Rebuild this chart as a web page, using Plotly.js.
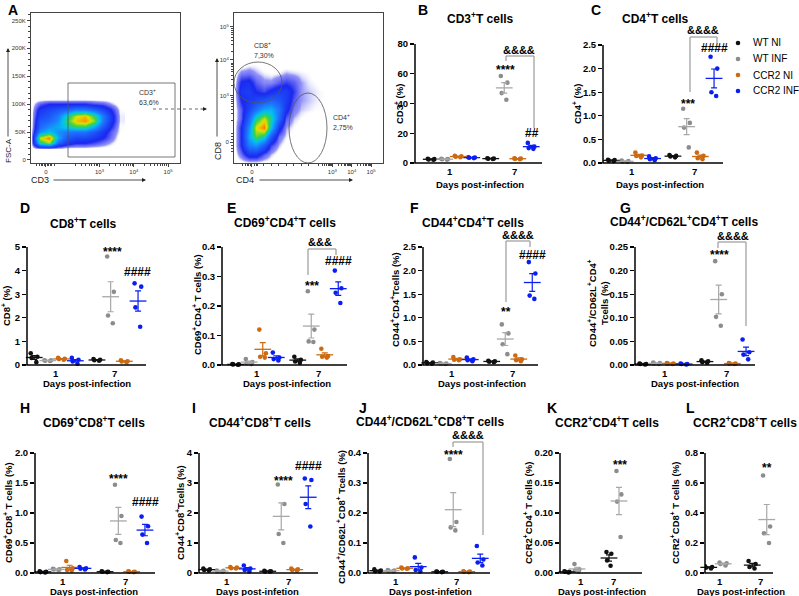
<!DOCTYPE html>
<html><head><meta charset="utf-8">
<script src="https://cdn.plot.ly/plotly-3.0.1.min.js"></script>
<style>html,body{margin:0;padding:0;background:#fff}#chart{width:799px;height:596px}</style>
</head><body><div id="chart"></div>
<script>
// ================= DATA =================
const dayLabels = ['1', '7'];
const groupNames = ['WT NI', 'WT INF', 'CCR2 NI', 'CCR2 INF'];

// Each array: [day-1 values, day-7 values]
// B  CD3+ T cells (%)
const cd3_WT_NI    = [[2.4, 2.8, 2.2, 2.6], [2.9, 3.2, 2.7, 3.0]];
const cd3_WT_INF   = [[2.5, 2.3, 2.8, 2.6], [58.5, 54, 47, 42.5]];
const cd3_CCR2_NI  = [[4.8, 4.2, 3.9, 4.5], [2.8, 3.1, 2.6, 3.0]];
const cd3_CCR2_INF = [[3.9, 3.5, 3.7, 3.3], [13.5, 11, 10, 9.5]];
// C  CD4+ T cells (%)
const cd4_WT_NI    = [[0.07, 0.05, 0.04, 0.06], [0.17, 0.14, 0.12, 0.15]];
const cd4_WT_INF   = [[0.05, 0.03, 0.02, 0.04], [1.15, 0.85, 0.75, 0.33]];
const cd4_CCR2_NI  = [[0.22, 0.15, 0.12, 0.16], [0.22, 0.15, 0.10, 0.08]];
const cd4_CCR2_INF = [[0.14, 0.10, 0.06, 0.08], [2.25, 2.0, 1.5, 1.42]];
// D  CD8+ T cells (%)
const cd8_WT_NI    = [[0.5, 0.35, 0.3, 0.12], [0.25, 0.22, 0.2, 0.18]];
const cd8_WT_INF   = [[0.2, 0.18, 0.2, 0.17], [4.6, 3.1, 2.1, 1.77]];
const cd8_CCR2_NI  = [[0.3, 0.26, 0.22, 0.25], [0.2, 0.16, 0.12, 0.15]];
const cd8_CCR2_INF = [[0.3, 0.22, 0.15, 0.05], [3.46, 3.32, 2.44, 1.62]];
// E  CD69+CD4+ T cells (%)
const cd69cd4_WT_NI    = [[0.003, 0.002, 0.001, 0.002], [0.028, 0.018, 0.012, 0.008]];
const cd69cd4_WT_INF   = [[0.02, 0.01, 0.006, 0.003], [0.25, 0.12, 0.08, 0.078]];
const cd69cd4_CCR2_NI  = [[0.12, 0.04, 0.028, 0.025], [0.055, 0.03, 0.028, 0.025]];
const cd69cd4_CCR2_INF = [[0.042, 0.025, 0.02, 0.015], [0.32, 0.26, 0.245, 0.21]];
// F  CD44+CD4+ T cells (%)
const cd44cd4_WT_NI    = [[0.06, 0.05, 0.04, 0.03], [0.09, 0.07, 0.06, 0.08]];
const cd44cd4_WT_INF   = [[0.04, 0.03, 0.02, 0.03], [0.86, 0.67, 0.44, 0.23]];
const cd44cd4_CCR2_NI  = [[0.17, 0.12, 0.10, 0.11], [0.2, 0.12, 0.10, 0.08]];
const cd44cd4_CCR2_INF = [[0.16, 0.12, 0.10, 0.08], [2.18, 1.94, 1.47, 1.4]];
// G  CD44+/CD62L+CD4+ T cells (%)
const cm4_WT_NI    = [[0.003, 0.002, 0.001, 0.002], [0.010, 0.008, 0.006, 0.005]];
const cm4_WT_INF   = [[0.005, 0.004, 0.003, 0.002], [0.22, 0.15, 0.102, 0.083]];
const cm4_CCR2_NI  = [[0.004, 0.003, 0.002, 0.003], [0.004, 0.003, 0.002, 0.003]];
const cm4_CCR2_INF = [[0.003, 0.002, 0.002, 0.001], [0.054, 0.027, 0.022, 0.012]];
// H  CD69+CD8+ T cells (%)
const cd69cd8_WT_NI    = [[0.03, 0.02, 0.015, 0.01], [0.03, 0.02, 0.02, 0.015]];
const cd69cd8_WT_INF   = [[0.07, 0.06, 0.06, 0.05], [1.47, 0.95, 0.55, 0.5]];
const cd69cd8_CCR2_NI  = [[0.2, 0.08, 0.05, 0.04], [0.03, 0.02, 0.02, 0.015]];
const cd69cd8_CCR2_INF = [[0.1, 0.08, 0.07, 0.06], [0.94, 0.78, 0.64, 0.5]];
// I  CD44+CD8+ T cells (%)
const cd44cd8_WT_NI    = [[0.15, 0.12, 0.10, 0.08], [0.07, 0.06, 0.05, 0.05]];
const cd44cd8_WT_INF   = [[0.08, 0.07, 0.06, 0.05], [2.95, 2.3, 1.3, 1.0]];
const cd44cd8_CCR2_NI  = [[0.2, 0.18, 0.15, 0.16], [0.15, 0.12, 0.10, 0.08]];
const cd44cd8_CCR2_INF = [[0.25, 0.15, 0.10, 0.05], [3.15, 3.1, 2.3, 1.55]];
// J  CD44+/CD62L+CD8+ T cells (%)
const cm8_WT_NI    = [[0.012, 0.008, 0.005, 0.006], [0.005, 0.004, 0.003, 0.004]];
const cm8_WT_INF   = [[0.010, 0.008, 0.007, 0.006], [0.38, 0.17, 0.152, 0.142]];
const cm8_CCR2_NI  = [[0.018, 0.016, 0.014, 0.015], [0.006, 0.004, 0.003, 0.005]];
const cm8_CCR2_INF = [[0.052, 0.018, 0.010, 0.005], [0.09, 0.045, 0.035, 0.025]];
// K  CCR2+CD4+ T cells (%)
const ccr2cd4_WT_NI  = [[0.003, 0.002, 0.001, 0.002], [0.035, 0.032, 0.021, 0.012]];
const ccr2cd4_WT_INF = [[0.015, 0.006, 0.004, 0.002], [0.17, 0.131, 0.119, 0.06]];
// L  CCR2+CD8+ T cells (%)
const ccr2cd8_WT_NI  = [[0.045, 0.04, 0.035, 0.03], [0.08, 0.06, 0.04, 0.03]];
const ccr2cd8_WT_INF = [[0.07, 0.065, 0.06, 0.05], [0.65, 0.31, 0.265, 0.2]];

// A  flow cytometry density estimates (0..1)
const fscCd3_x = [0, 6, 12, 18, 24, 30, 36, 42, 48, 54, 60];
const fscCd3_y = [20, 30, 40, 50, 60, 70, 80, 90, 100, 110];
const fscCd3_z = [
  [0, 0, 0, 0, 0, 0, 0, 0, 0, 0, 0],
  [0, 0.62, 0.75, 0.35, 0.2, 0.15, 0.15, 0.12, 0.08, 0.04, 0],
  [0, 0.78, 0.92, 0.5, 0.3, 0.25, 0.25, 0.2, 0.15, 0.08, 0],
  [0, 0.45, 0.55, 0.45, 0.4, 0.38, 0.38, 0.3, 0.2, 0.1, 0.02],
  [0, 0.35, 0.45, 0.5, 0.58, 0.65, 0.65, 0.5, 0.3, 0.15, 0.02],
  [0, 0.3, 0.35, 0.45, 0.66, 0.84, 0.9, 0.74, 0.4, 0.2, 0.03],
  [0, 0.25, 0.3, 0.4, 0.6, 0.78, 0.84, 0.66, 0.4, 0.2, 0.03],
  [0, 0.2, 0.25, 0.3, 0.35, 0.42, 0.42, 0.35, 0.25, 0.15, 0.02],
  [0, 0.1, 0.15, 0.15, 0.15, 0.15, 0.15, 0.12, 0.1, 0.05, 0],
  [0, 0, 0, 0, 0, 0, 0, 0, 0, 0, 0]
];
const cd8Cd4_x = [0, 5, 10, 15, 20, 25, 30, 35, 40, 45, 50, 55, 60, 65];
const cd8Cd4_y = [0, 6, 12, 18, 24, 30, 36, 42, 48, 54, 60, 66];
const cd8Cd4_z = [
  [0, 0, 0, 0, 0, 0, 0, 0, 0, 0, 0, 0, 0, 0],
  [0, 0.08, 0.2, 0.2, 0.1, 0.04, 0, 0, 0, 0, 0, 0, 0, 0],
  [0, 0.15, 0.4, 0.45, 0.3, 0.12, 0.04, 0, 0, 0, 0, 0, 0, 0],
  [0, 0.15, 0.5, 0.7, 0.6, 0.3, 0.08, 0.03, 0, 0, 0, 0, 0, 0],
  [0, 0.15, 0.45, 0.8, 0.93, 0.55, 0.2, 0.05, 0.02, 0, 0, 0, 0, 0],
  [0, 0.1, 0.35, 0.62, 0.78, 0.62, 0.35, 0.1, 0.04, 0.02, 0, 0, 0, 0],
  [0, 0.1, 0.25, 0.38, 0.5, 0.52, 0.38, 0.18, 0.07, 0.04, 0.03, 0.02, 0.02, 0],
  [0, 0.15, 0.2, 0.25, 0.3, 0.34, 0.3, 0.22, 0.1, 0.05, 0.04, 0.03, 0.02, 0],
  [0, 0.2, 0.22, 0.15, 0.12, 0.17, 0.22, 0.22, 0.13, 0.05, 0.04, 0.03, 0.02, 0],
  [0, 0.16, 0.18, 0.1, 0.06, 0.06, 0.1, 0.13, 0.1, 0.05, 0.03, 0.02, 0, 0],
  [0, 0.07, 0.08, 0.05, 0.03, 0.02, 0.03, 0.05, 0.04, 0.03, 0.02, 0, 0, 0],
  [0, 0, 0.02, 0.02, 0, 0, 0, 0, 0, 0, 0, 0, 0, 0]
];
const fscTickVals = [0, 50, 100, 150, 200, 250];
const fscTickText = ['0', '50K', '100K', '150K', '200K', '250K'];
const logTickText = ['0', '10<sup>3</sup>', '10<sup>4</sup>', '10<sup>5</sup>'];

// ================= LAYOUT HELPERS =================
const W = 799, H = 596;
const X = p => p / W, Y = p => 1 - p / H;
const FONT = '"Liberation Sans", Arial, sans-serif';
const colors = ['#111111', '#8c8c8c', '#cc6a12', '#0a1ef2'];
const meanColors = ['#111111', '#a8a8a8', '#cc6a12', '#0a1ef2'];

const traces = [], shapes = [], annotations = [];
const layout = {
  width: W, height: H, margin: {l: 0, r: 0, t: 0, b: 0},
  paper_bgcolor: '#fff', plot_bgcolor: 'rgba(0,0,0,0)', showlegend: false,
  font: {family: FONT, color: '#000'}
};
function ann(x, y, text, o) {
  annotations.push(Object.assign({xref: 'paper', yref: 'paper', x: X(x), y: Y(y), text: text,
    showarrow: false, xanchor: 'center', yanchor: 'middle',
    font: {family: FONT, size: 10, color: '#000'}}, o || {}));
}
function seg(x0, y0, x1, y1, color, width, dash) {
  shapes.push({type: 'line', xref: 'paper', yref: 'paper', x0: X(x0), y0: Y(y0), x1: X(x1), y1: Y(y1),
    line: {color: color, width: width, dash: dash || 'solid'}});
}
function arrow(x0, y0, x1, y1) {
  annotations.push({xref: 'paper', yref: 'paper', x: X(x1), y: Y(y1), ax: x0 - x1, ay: y0 - y1,
    axref: 'pixel', ayref: 'pixel', text: '', showarrow: true, arrowhead: 2, arrowsize: 1,
    arrowwidth: 0.8, arrowcolor: '#222'});
}

// ================= PANEL A (flow) =================
const jetScale = [[0, 'rgba(255,255,255,0)'], [0.015, 'rgba(255,255,255,0)'], [0.05, 'rgba(40,40,240,0.5)'],
  [0.15, 'rgba(26,40,240,1)'], [0.4, '#1e78ff'], [0.55, '#00c4f0'], [0.68, '#3cd24a'],
  [0.8, '#e0e400'], [0.9, '#ff9000'], [1, '#ff1800']];
traces.push({type: 'heatmap', x: fscCd3_x, y: fscCd3_y, z: fscCd3_z, xaxis: 'x', yaxis: 'y',
  zsmooth: 'best', colorscale: jetScale, zmin: 0, zmax: 1, showscale: false, hoverinfo: 'skip'});
traces.push({type: 'heatmap', x: cd8Cd4_x, y: cd8Cd4_y, z: cd8Cd4_z, xaxis: 'x2', yaxis: 'y2',
  zsmooth: 'best', colorscale: jetScale, zmin: 0, zmax: 1, showscale: false, hoverinfo: 'skip'});

function logMinor(zeroPos, d3Pos, dec, extra) {
  const out = extra.slice();
  for (let e = 2; e <= 4; e++) for (let k = 2; k < 10; k++) {
    const p = d3Pos + dec * ((e - 3) + Math.log10(k));
    if (p > zeroPos + 3 && p < 99) out.push(p);
  }
  return out;
}
const flowAx = {showgrid: false, zeroline: false, showline: true, mirror: true, linecolor: '#444',
  linewidth: 1, ticks: 'outside', ticklen: 3, tickcolor: '#444', fixedrange: true,
  tickfont: {family: FONT, size: 6, color: '#333'}};
layout.xaxis = Object.assign({}, flowAx, {domain: [X(31), X(180)], range: [0, 100], anchor: 'y',
  tickmode: 'array', tickvals: [10, 46, 69, 92], ticktext: logTickText,
  minor: {tickvals: logMinor(10, 46, 23, [4, 6, 7, 8, 9, 11, 12, 13, 14, 16]), ticks: 'outside', ticklen: 2, tickcolor: '#444'}});
layout.yaxis = Object.assign({}, flowAx, {domain: [Y(163), Y(13)], range: [-5.4, 263.4], anchor: 'x',
  tickmode: 'array', tickvals: fscTickVals, ticktext: fscTickText,
  minor: {tickmode: 'linear', tick0: 0, dtick: 10, ticks: 'outside', ticklen: 2, tickcolor: '#444'}});
layout.xaxis2 = Object.assign({}, flowAx, {domain: [X(234), X(383)], range: [0, 100], anchor: 'y2',
  tickmode: 'array', tickvals: [12, 66, 79, 92], ticktext: logTickText,
  minor: {tickvals: logMinor(12, 66, 13, [6, 8, 9, 10, 11, 14, 15, 16, 20, 25, 30, 35, 40, 45, 50]), ticks: 'outside', ticklen: 2, tickcolor: '#444'}});
layout.yaxis2 = Object.assign({}, flowAx, {domain: [Y(163), Y(13)], range: [0, 100], anchor: 'x2',
  tickmode: 'array', tickvals: [14, 44.7, 68.7, 90.7], ticktext: logTickText,
  minor: {tickvals: logMinor(14, 44.7, 23, [8, 10, 12, 16, 18, 20]), ticks: 'outside', ticklen: 2, tickcolor: '#444'}});

// gates
shapes.push({type: 'rect', xref: 'paper', yref: 'paper', x0: X(68), x1: X(175), y0: Y(157), y1: Y(83),
  line: {color: '#555', width: 0.8}});
shapes.push({type: 'circle', xref: 'paper', yref: 'paper', x0: X(234), x1: X(282), y0: Y(103), y1: Y(62),
  line: {color: '#555', width: 0.8}});
shapes.push({type: 'circle', xref: 'paper', yref: 'paper', x0: X(289), x1: X(327), y0: Y(163), y1: Y(93),
  line: {color: '#555', width: 0.8}});
const gateFont = {family: FONT, size: 7, color: '#333'};
ann(137, 92, 'CD3<sup>+</sup>', {xanchor: 'left', font: gateFont});
ann(137, 102, '63,6%', {xanchor: 'left', font: gateFont});
ann(252, 45, 'CD8<sup>+</sup>', {xanchor: 'left', font: gateFont});
ann(252, 56, '7,30%', {xanchor: 'left', font: gateFont});
ann(331, 117, 'CD4<sup>+</sup>', {xanchor: 'left', font: gateFont});
ann(331, 127, '2,75%', {xanchor: 'left', font: gateFont});
// axis labels + arrows
const flowLab = {family: FONT, size: 9, color: '#222'};
ann(8, 151, 'FSC-A', {textangle: -90, font: {family: FONT, size: 8, color: '#222'}});
ann(40, 180, 'CD3', {font: flowLab});
ann(218, 151, 'CD8', {textangle: -90, font: flowLab});
ann(245, 180, 'CD4', {font: flowLab});
arrow(8, 138, 8, 48);
arrow(52, 180, 146, 180);
arrow(217, 138, 217, 58);
arrow(258, 180, 353, 180);
seg(153, 109, 201, 109, '#444', 0.8, 'dot');
arrow(199, 109, 207, 109);

// ================= DOT PANELS =================
const panels = [
  {letter: 'B', lp: [423, 0], title: 'CD3<sup>+</sup>T cells', tp: [480, 18], ytitle: 'CD3<sup>+</sup> (%)', yp: [399, 104],
   data: [cd3_WT_NI, cd3_WT_INF, cd3_CCR2_NI, cd3_CCR2_INF], ymax: 80, dtick: 20, fmt: '',
   g: {L: 415, R: 542, bot: 163, top: 44, c1: 451.5, c7: 511, gp: 13.5, t1: 450, t7: 514}, xt: [480, 183], xtitle: 'Days post-infection',
   sig: [['****', 505, 67], ['##', 532, 133], ['&&&&', 519, 50]], br: [506, 534, 56, 61, 128]},
  {letter: 'C', lp: [596, 0], title: 'CD4<sup>+</sup>T cells', tp: [655, 18], ytitle: 'CD4<sup>+</sup> (%)', yp: [577, 104],
   data: [cd4_WT_NI, cd4_WT_INF, cd4_CCR2_NI, cd4_CCR2_INF], ymax: 2.5, dtick: 0.5, fmt: '.1f',
   g: {L: 603, R: 723, bot: 163, top: 45, c1: 632, c7: 693.5, gp: 13.7, t1: 632, t7: 694}, xt: [660, 183], xtitle: 'Days post-infection',
   sig: [['***', 688, 101], ['####', 714, 48], ['&&&&', 703, 30]], br: [690, 717, 37, 92, 43]},
  {letter: 'D', lp: [25, 198], title: 'CD8<sup>+</sup>T cells', tp: [83, 223], ytitle: 'CD8<sup>+</sup> (%)', yp: [6, 306],
   data: [cd8_WT_NI, cd8_WT_INF, cd8_CCR2_NI, cd8_CCR2_INF], ymax: 5, dtick: 1, fmt: '',
   g: {L: 27, R: 146, bot: 365, top: 247, c1: 54.75, c7: 117.5, gp: 13.7, t1: 56, t7: 114}, xt: [87, 382], xtitle: 'Days post-infection',
   sig: [['****', 112, 249], ['####', 137, 272]]},
  {letter: 'E', lp: [232, 198], title: 'CD69<sup>+</sup>CD4<sup>+</sup>T cells', tp: [285, 222], ytitle: 'CD69<sup>+</sup>CD4<sup>+</sup> T cells (%)', yp: [197, 305],
   data: [cd69cd4_WT_NI, cd69cd4_WT_INF, cd69cd4_CCR2_NI, cd69cd4_CCR2_INF], ymax: 0.4, dtick: 0.1, fmt: '.1f',
   g: {L: 222, R: 347, bot: 365, top: 247, c1: 256, c7: 318, gp: 13.5, t1: 257, t7: 318}, xt: [287, 382], xtitle: 'Days post-infection',
   sig: [['***', 312, 283], ['####', 338, 261], ['&&&', 320, 242]], br: [308, 336, 249, 275, 255]},
  {letter: 'F', lp: [415, 198], title: 'CD44<sup>+</sup>CD4<sup>+</sup>T cells', tp: [473, 222], ytitle: 'CD44<sup>+</sup>CD4<sup>+</sup>Tcells (%)', yp: [395, 300],
   data: [cd44cd4_WT_NI, cd44cd4_WT_INF, cd44cd4_CCR2_NI, cd44cd4_CCR2_INF], ymax: 2.5, dtick: 0.5, fmt: '.1f',
   g: {L: 423, R: 538, bot: 365, top: 247, c1: 450, c7: 512, gp: 13.5, t1: 452, t7: 512}, xt: [482, 382], xtitle: 'Days post-infection',
   sig: [['**', 506, 309], ['####', 532, 255], ['&&&&', 518, 235]], br: [506, 530, 241, 302, 247]},
  {letter: 'G', lp: [625, 198], title: 'CD44<sup>+</sup>/CD62L<sup>+</sup>CD4<sup>+</sup>T cells', tp: [684, 221],
   ytitle: 'CD44<sup>+</sup>/CD62L<sup>+</sup>CD4<sup>+</sup><br>Tcells (%)', yp: [598, 303],
   data: [cm4_WT_NI, cm4_WT_INF, cm4_CCR2_NI, cm4_CCR2_INF], ymax: 0.25, dtick: 0.05, fmt: '.2f',
   g: {L: 635, R: 755, bot: 365, top: 247, c1: 663.5, c7: 725.5, gp: 13.7, t1: 665, t7: 726}, xt: [695, 382], xtitle: 'Days post-infection',
   sig: [['****', 719, 252], ['&&&&', 733, 236]], br: [718, 746, 242, 248, 326]},
  {letter: 'H', lp: [25, 398], title: 'CD69<sup>+</sup>CD8<sup>+</sup>T cells', tp: [94, 422], ytitle: 'CD69<sup>+</sup>CD8<sup>+</sup> T cells (%)', yp: [8, 513],
   data: [cd69cd8_WT_NI, cd69cd8_WT_INF, cd69cd8_CCR2_NI, cd69cd8_CCR2_INF], ymax: 2, dtick: 0.5, fmt: '.1f',
   g: {L: 35, R: 155, bot: 573, top: 453, c1: 63, c7: 125, gp: 13.3, t1: 63, t7: 125}, xt: [94, 590], xtitle: 'Days post-infection',
   sig: [['****', 118, 476], ['####', 145, 502]]},
  {letter: 'I', lp: [194, 398], title: 'CD44<sup>+</sup>CD8<sup>+</sup>T cells', tp: [260, 422], ytitle: 'CD44<sup>+</sup>CD8<sup>+</sup>Tcells (%)', yp: [180, 513],
   data: [cd44cd8_WT_NI, cd44cd8_WT_INF, cd44cd8_CCR2_NI, cd44cd8_CCR2_INF], ymax: 4, dtick: 1, fmt: '',
   g: {L: 199, R: 318, bot: 573, top: 453, c1: 227, c7: 288, gp: 13.5, t1: 227, t7: 288}, xt: [257, 590], xtitle: 'Days post-infetion',
   sig: [['****', 283, 478], ['####', 308, 466]]},
  {letter: 'J', lp: [363, 398], title: 'CD44<sup>+</sup>/CD62L<sup>+</sup>CD8<sup>+</sup>T cells', tp: [430, 421],
   ytitle: 'CD44<sup>+</sup>/CD62L<sup>+</sup>CD8<sup>+</sup> Tcells (%)', yp: [341, 517],
   data: [cm8_WT_NI, cm8_WT_INF, cm8_CCR2_NI, cm8_CCR2_INF], ymax: 0.4, dtick: 0.1, fmt: '.1f',
   g: {L: 368, R: 490, bot: 573, top: 453, c1: 398, c7: 460, gp: 13.5, t1: 396, t7: 457}, xt: [430, 590], xtitle: 'Days post-infetion',
   sig: [['****', 453, 452], ['&&&&', 468, 435]], br: [453, 483, 442, 447, 535]},
  {letter: 'K', lp: [552, 398], title: 'CCR2<sup>+</sup>CD4<sup>+</sup>T cells', tp: [607, 422], ytitle: 'CCR2<sup>+</sup>CD4<sup>+</sup> T cells (%)', yp: [528, 513],
   data: [ccr2cd4_WT_NI, ccr2cd4_WT_INF], ymax: 0.2, dtick: 0.05, fmt: '.2f',
   g: {L: 560, R: 642, bot: 573, top: 453, c1: 572, c7: 614, gp: 10, t1: 581, t7: 613}, xt: [602, 590], xtitle: 'Days post-infection',
   sig: [['***', 620, 462]]},
  {letter: 'L', lp: [690, 398], title: 'CCR2<sup>+</sup>CD8<sup>+</sup>T cells', tp: [745, 422], ytitle: 'CCR2<sup>+</sup>CD8<sup>+</sup> T cells (%)', yp: [675, 513],
   data: [ccr2cd8_WT_NI, ccr2cd8_WT_INF], ymax: 0.8, dtick: 0.2, fmt: '.1f',
   g: {L: 705, R: 773, bot: 573, top: 453, c1: 716, c7: 759.5, gp: 14.5, t1: 720, t7: 760}, xt: [741, 590], xtitle: 'Days post-infection',
   sig: [['**', 767, 465]]}
];

const boldFont = (s) => ({family: FONT, size: s, color: '#000', weight: 'bold'});
function mean(a) { return a.reduce((s, v) => s + v, 0) / a.length; }
function sem(a) { const m = mean(a); return Math.sqrt(a.reduce((s, v) => s + (v - m) * (v - m), 0) / (a.length - 1)) / Math.sqrt(a.length); }

ann(13, 0, 'A', {yanchor: 'top', font: boldFont(14)});

panels.forEach((p, i) => {
  const n = i + 3, g = p.g;
  const unit = g.c7 - g.c1;
  const r0 = 1 - (g.c1 - g.L) / unit, r1 = 2 + (g.R - g.c7) / unit;
  const gs = g.gp / unit;
  const pad = 4, span = g.bot - g.top;
  layout['xaxis' + n] = {domain: [X(g.L), X(g.R)], range: [r0, r1], anchor: 'y' + n, showline: false, showgrid: false,
    zeroline: false, ticks: '', showticklabels: false, fixedrange: true};
  layout['yaxis' + n] = {domain: [Y(g.bot + pad), Y(g.top)], range: [-pad * p.ymax / span, p.ymax], anchor: 'x' + n,
    showline: false, showgrid: false, zeroline: false, ticks: 'outside', ticklen: 4, tickwidth: 1.3, tickcolor: '#000',
    tickmode: 'linear', tick0: 0, dtick: p.dtick, tickformat: p.fmt, tickfont: boldFont(9.5), fixedrange: true};
  // axis lines
  seg(g.L, g.bot, g.L, g.top, '#000', 1.5);
  seg(g.L - 0.7, g.bot, g.R, g.bot, '#000', 1.5);
  // day labels
  ann(g.t1, g.bot + 8, dayLabels[0], {font: boldFont(9.5)});
  ann(g.t7, g.bot + 8, dayLabels[1], {font: boldFont(9.5)});
  const nG = p.data.length;
  p.data.forEach((grp, k) => {
    grp.forEach((vals, d) => {
      const pos = 1 + d + (k - (nG - 1) / 2) * gs;
      traces.push({type: 'box', x0: pos, y: vals, xaxis: 'x' + n, yaxis: 'y' + n, boxpoints: 'all', jitter: 1,
        pointpos: 0, width: 0.6 * gs, line: {width: 0, color: colors[k]}, fillcolor: 'rgba(0,0,0,0)',
        marker: {color: colors[k], size: 4.6}, hoverinfo: 'skip', name: groupNames[k]});
      traces.push({type: 'scatter', mode: 'markers', x: [pos], y: [mean(vals)], xaxis: 'x' + n, yaxis: 'y' + n,
        cliponaxis: false, hoverinfo: 'skip',
        marker: {symbol: 'line-ew', size: 12, color: meanColors[k], line: {width: 1.3, color: meanColors[k]}},
        error_y: {type: 'data', array: [sem(vals)], visible: true, width: 3, thickness: 1.2, color: meanColors[k]}});
    });
  });
  ann(p.lp[0], p.lp[1], p.letter, {yanchor: 'top', font: boldFont(14)});
  ann(p.tp[0], p.tp[1], p.title, {font: boldFont(12)});
  ann(p.yp[0], p.yp[1], p.ytitle, {textangle: -90, font: boldFont(9.5)});
  ann(p.xt[0], p.xt[1] + 1, p.xtitle, {font: boldFont(9.5)});
  p.sig.forEach(s => {
    const isStar = s[0][0] === '*';
    ann(s[1], s[2] + (isStar ? 3 : 0), s[0], {font: boldFont(s[0][0] === '&' ? 11 : 12)});
  });
  if (p.br) {
    const [x0, x1, y, yl, yr] = p.br;
    seg(x0, y, x1, y, '#9a9a9a', 1.2);
    seg(x0, y, x0, yl, '#9a9a9a', 1.2);
    seg(x1, y, x1, yr, '#9a9a9a', 1.2);
  }
});

// legend
const legY = [43, 59, 75, 91];
groupNames.forEach((nm, k) => {
  shapes.push({type: 'circle', xref: 'paper', yref: 'paper', x0: X(735.7), x1: X(740.3), y0: Y(legY[k] + 2.3), y1: Y(legY[k] - 2.3),
    fillcolor: colors[k], line: {width: 0}});
  ann(751, legY[k], nm, {xanchor: 'left', font: {family: FONT, size: 10, color: '#000'}});
});

layout.shapes = shapes;
layout.annotations = annotations;
Plotly.newPlot('chart', traces, layout, {staticPlot: true, displayModeBar: false});
</script></body></html>
